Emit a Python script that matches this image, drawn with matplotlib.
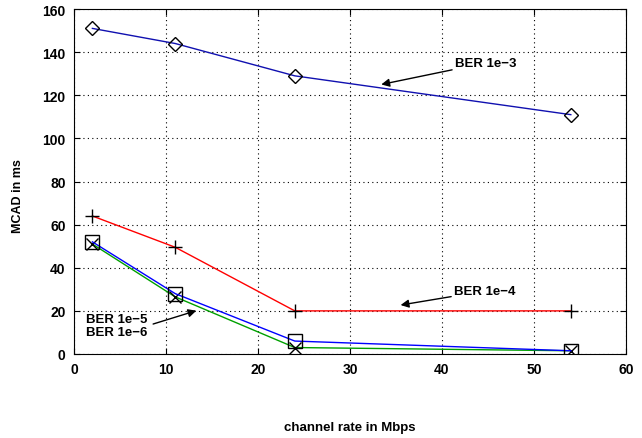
import matplotlib
matplotlib.use('Agg')
import matplotlib.pyplot as plt

# %% Data.
rate = [2, 11, 24, 54]
ber_1e3 = [151, 144, 129, 111]
ber_1e4 = [64, 49.5, 20, 20]
ber_1e5 = [52, 28, 6, 1.5]
ber_1e6 = [51, 26.5, 3, 1.5]

xticks = [0, 10, 20, 30, 40, 50, 60]
yticks = [0, 20, 40, 60, 80, 100, 120, 140, 160]

plt.rcParams['font.family'] = ['Liberation Sans', 'DejaVu Sans']
plt.rcParams['font.weight'] = 'bold'

# %%
fig = plt.figure(figsize=(6.42, 4.39), dpi=100)
ax = fig.add_axes([74 / 642, 1 - 355 / 439, 552 / 642, 345 / 439])

ax.plot(rate, ber_1e3, color='#1010b0', lw=1, marker='D', ms=7, mfc='none', mec='k', mew=1)
ax.plot(rate, ber_1e4, color='red', lw=1, marker='+', ms=10, mec='k', mew=1)
ax.plot(rate, ber_1e6, color='#00a000', lw=1, marker='x', ms=9, mec='k', mew=1)
ax.plot(rate, ber_1e5, color='blue', lw=1, marker='s', ms=10, mfc='none', mec='k', mew=1)

ax.set_xlim(0, 60)
ax.set_ylim(0, 160)
ax.set_xticks(xticks)
ax.set_yticks(yticks)
ax.tick_params(direction='in', top=True, right=True, labelsize=10, length=4, pad=6)
for lab in ax.get_xticklabels() + ax.get_yticklabels():
    lab.set_fontweight('bold')
ax.grid(True, color='k', linestyle=(0, (1, 3)), lw=0.8)

ax.set_xlabel("channel rate in Mbps", fontsize=9.5, fontweight='bold')
ax.xaxis.set_label_coords(0.5, -(422 - 355) / 345)
ax.set_ylabel("MCAD in ms", fontsize=9, fontweight='bold')
ax.yaxis.set_label_coords(-(74 - 24) / 552, 0.46)

arrow = dict(arrowstyle='-|>', color='k', lw=1, mutation_scale=12, shrinkA=0, shrinkB=0)
ax.annotate("BER 1e\u22123", xy=(33.4, 125), xytext=(41.4, 135), fontsize=9.5,
            fontweight='bold', va='center', arrowprops=arrow)
ax.annotate("BER 1e\u22124", xy=(35.5, 22.7), xytext=(41.3, 29.2), fontsize=9.5,
            fontweight='bold', va='center', arrowprops=arrow)
ax.annotate("", xy=(13.3, 20.1), xytext=(8.6, 13.9), arrowprops=arrow)
ax.text(1.3, 16.2, "BER 1e\u22125", fontsize=9.5, fontweight='bold', va='center')
ax.text(1.3, 10.1, "BER 1e\u22126", fontsize=9.5, fontweight='bold', va='center')

fig.savefig('out.png', dpi=100)
